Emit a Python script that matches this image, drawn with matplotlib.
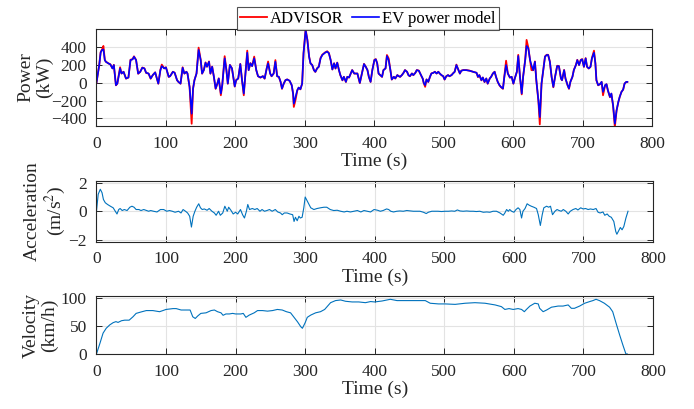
import matplotlib.pyplot as plt

plt.rcParams['font.family'] = ['Liberation Serif', 'DejaVu Serif']
plt.rcParams['mathtext.fontset'] = 'stix'

# power (kW)
power_t = [0, 4, 6, 8, 10, 12, 13.5, 17, 20, 23, 25, 28, 30, 34, 36, 39, 42.5, 46, 49, 52,
           54, 57, 60, 63, 66, 69, 71.5, 75, 78, 81, 84.5, 87, 89, 92, 94, 97.5, 100, 104, 106, 110,
           112.5, 116, 118, 121, 124, 126.5, 129.5, 131, 134, 137, 139, 141, 144, 147, 150, 152, 154.5, 157, 159, 162,
           164, 166.5, 169, 171.5, 174, 176, 179, 181, 184.5, 187, 189, 192, 195, 199, 201, 204, 207, 209.5, 212, 214,
           217, 219, 221.5, 224, 227, 230, 232.5, 236, 239.5, 242, 245, 247, 250, 252, 255, 257.5, 260, 262.5, 265, 267,
           269.5, 272, 274.5, 278, 281, 283, 284, 286.5, 289, 291, 293.5, 296, 298, 301, 303.5, 306, 308, 310.5, 313, 315,
           317.5, 320, 322.5, 325, 329, 332, 334.5, 337, 339.5, 342, 344, 346.5, 349, 351, 354, 356, 359, 361, 363.5, 366,
           368, 371, 373, 375.5, 379, 382, 385, 387.5, 390, 392, 394.5, 397, 400, 402, 404, 406, 408.5, 411, 413, 416,
           418, 420.5, 423, 425, 428, 430, 433, 435, 437, 439.5, 442, 444, 447, 449, 451, 454, 456, 459, 461, 464,
           467, 469.5, 471, 473, 475, 477.5, 480, 482, 485, 487, 489.5, 492, 494, 496.5, 499, 501, 503.5, 506, 508, 511,
           513, 515.5, 518, 520, 523, 525, 528, 532, 537, 542, 547, 549, 551, 554, 556, 558.5, 561, 563, 566, 568,
           570.5, 573, 575, 577.5, 580, 582, 585, 587, 589.5, 592, 595, 597.5, 600, 602, 605, 607, 609.5, 612, 614, 617,
           619, 621.5, 624, 626, 628.5, 631, 633, 636, 638, 640.5, 643, 645.5, 648, 650, 652.5, 655, 657.5, 660, 663, 665.5,
           668.5, 670, 673, 675, 678, 680, 682, 685, 687, 690, 692, 694.5, 697, 699, 701.5, 704, 706, 708.5, 711, 713,
           716, 718, 719.5, 722, 724.5, 727, 729, 732, 734, 736, 739, 741, 743.5, 746, 748.5, 751, 753, 755.5, 758, 760,
           762.5, 764]
model_kw = [0, 200, 340, 370, 375, 256, 237, 219, 207, 162, 200, -26, -8, 162, 105, 124, 49, 60, 256, 264,
            294, 256, 105, 124, 170, 162, 113, 105, 49, 87, 117, 49, -8, 143, 188, 162, 173, 68, 75, 124,
            113, 30, 11, -8, 170, 105, 124, 105, -45, -347, -64, 30, 105, 370, 256, 105, 143, 226, 181, 237,
            105, 181, 68, -64, -8, 49, -120, -26, 275, 143, -8, 200, 162, -40, 30, 49, 211, 30, -120, 68,
            339, 143, 219, 188, 275, 143, 75, 60, 75, 49, 162, 219, 105, 75, 105, 237, 75, 68, 11, -64,
            -8, 30, 38, 23, -26, -120, -234, -158, -83, -53, -72, -8, 332, 588, 483, 294, 219, 200, 143, 124,
            162, 181, 275, 313, 339, 351, 332, 256, 151, 219, 162, 226, 143, 87, 30, 68, 11, 68, 60, 105,
            143, 105, 105, 105, 0, 105, 211, 181, 143, 68, 11, 143, 256, 264, 219, 105, 87, 68, 143, 162,
            302, 256, 143, 38, 68, 49, 87, 75, 68, 87, 113, 143, 124, 87, 75, 105, 87, 113, 143, 136,
            87, 49, 0, -26, 38, 11, 68, 105, 113, 124, 105, 124, 105, 87, 75, 38, 75, 87, 75, 87,
            105, 124, 200, 162, 105, 136, 143, 143, 136, 124, 113, 68, 87, 30, 60, 11, 49, -8, 49, 68,
            105, 124, 68, 11, -26, -45, -64, 68, 200, 105, 60, 68, -8, 49, 124, 302, 68, -120, 68, 256,
            415, 388, 256, 200, 143, 237, 30, -196, -385, -8, 143, 294, 313, 313, 237, 68, -45, 68, 188, 188,
            49, 30, 143, 49, -26, -64, 11, 68, 143, 200, 256, 200, 256, 264, 181, 275, 181, 162, 181, 275,
            339, 219, 30, -26, -15, 11, -102, -26, -15, -83, -158, -120, -253, -460, -309, -215, -158, -102, -75, -8,
            11, 11]
advisor_kw = [0, 205, 345, 375, 415, 258, 238, 220, 208, 163, 202, -28, -9, 175, 105, 125, 47, 60, 260, 267,
              298, 257, 102, 125, 172, 163, 111, 104, 47, 87, 118, 47, -10, 145, 205, 163, 175, 66, 75, 125,
              114, 29, 10, -10, 175, 104, 125, 104, -48, -460, -67, 30, 106, 396, 259, 103, 144, 230, 182, 241,
              103, 183, 66, -67, -9, 50, -140, -28, 300, 144, -10, 202, 163, -42, 30, 49, 213, 28, -140, 68,
              362, 142, 222, 189, 295, 142, 74, 59, 75, 47, 163, 240, 104, 74, 105, 256, 74, 66, 10, -67,
              -9, 30, 39, 22, -28, -125, -271, -190, -85, -54, -73, -9, 336, 603, 486, 296, 220, 200, 142, 123,
              163, 183, 280, 316, 342, 355, 335, 258, 150, 220, 161, 228, 142, 86, 28, 68, 10, 68, 59, 105,
              144, 104, 105, 105, -3, 106, 213, 182, 143, 67, 10, 144, 259, 267, 220, 104, 86, 67, 144, 163,
              313, 275, 143, 37, 68, 48, 87, 75, 67, 87, 114, 144, 124, 86, 74, 106, 86, 114, 144, 137,
              86, 47, -3, -45, 38, 10, 68, 106, 114, 125, 105, 125, 105, 86, 74, 37, 75, 87, 74, 87,
              106, 125, 205, 162, 104, 137, 144, 144, 137, 124, 113, 65, 87, 28, 60, 8, 49, -10, 49, 68,
              106, 125, 67, 10, -28, -48, -67, 69, 249, 105, 58, 68, -10, 49, 125, 315, 65, -130, 68, 260,
              483, 395, 259, 143, 142, 241, 28, -205, -467, -10, 144, 297, 316, 315, 238, 67, -50, 69, 192, 189,
              47, 29, 145, 47, -28, -67, 10, 69, 145, 202, 259, 200, 259, 267, 180, 278, 180, 161, 181, 278,
              362, 220, 28, -28, -16, 10, -140, -28, -16, -86, -162, -122, -260, -498, -312, -218, -159, -103, -75, -9,
              10, 10]

# acceleration (m/s^2)
acc_t = [0, 2.5, 5.5, 8, 10, 12.7, 16, 20, 24, 27, 29.5, 32, 34, 37, 40, 44, 48, 51, 54, 57,
         61, 64, 68, 72, 75, 78, 82, 87, 92, 96.6, 101, 105, 109, 113, 118, 121.5, 124.5, 128, 131, 134,
         136.5, 139, 141.5, 144, 147, 149.5, 152, 155, 159, 162, 166, 169.5, 172, 175.5, 178, 181.5, 184.5, 188, 190, 193.5,
         196.5, 200, 203, 207, 210, 212.7, 215.5, 217.5, 220, 224, 227.6, 231, 235, 238, 241.5, 245, 248.7, 252.5, 257, 260.6,
         264.5, 267, 270, 274, 278, 282, 284, 286, 288.5, 291, 293, 295.6, 298, 300, 303, 305.5, 308, 312.5, 317, 322,
         327, 331, 336, 341, 346, 351, 356, 360, 365, 370, 375, 380, 384.5, 389, 394, 399, 404, 408, 412, 417,
         420, 423, 427, 431.6, 436, 441, 446, 451, 455.5, 460, 465, 470, 474, 477, 482, 486.6, 491, 496, 501, 506,
         510.5, 515, 518.7, 522.5, 527, 532, 537, 541.6, 546, 551, 556, 561, 565.5, 570, 575, 580, 584.7, 587, 589.5, 592,
         594, 596.7, 600, 603, 606, 608.6, 611, 613, 616, 619, 622, 625, 628.7, 632.5, 635, 638, 640.7, 643, 647, 650,
         652.6, 655.5, 659, 662, 665, 668, 671, 674.6, 678, 681, 685, 689, 692, 696, 699.5, 703, 706.7, 710, 714, 718,
         721, 724, 728, 730.6, 734, 737, 740, 743.6, 746.4, 748, 750, 753, 755.5, 758, 761, 764]
acc_ms2 = [0, 1.18, 1.53, 1.29, 0.82, 0.59, 0.47, 0.35, 0.24, 0, -0.19, 0.12, 0.19, 0.05, 0.12, 0.05, 0.28, 0.35, 0.28, 0.12,
           0.12, 0.05, 0.12, 0.05, 0, 0.05, 0, -0.05, 0.12, 0.12, 0, 0.05, 0, -0.07, 0, -0.12, 0.12, 0, -0.12, -0.35,
           -1.1, -0.35, 0, 0.28, 0.52, 0.24, 0.12, 0.16, 0.07, 0.19, 0, -0.12, -0.28, 0, -0.28, -0.12, 0.35, 0, 0.28, 0.05,
           -0.19, -0.07, -0.19, 0.12, -0.24, -0.47, 0, 0.47, 0.12, 0.19, 0.12, 0.19, 0, 0.12, 0, 0.05, 0.12, 0, 0.12, -0.05,
           -0.12, -0.24, -0.12, -0.12, -0.19, -0.24, -0.71, -0.42, -0.66, -0.35, -0.47, -0.42, 0.24, 0.99, 0.71, 0.47, 0.24, 0.12, 0.19, 0.24,
           0.28, 0.28, 0.12, 0.05, 0.07, 0, -0.05, 0, -0.05, 0, 0.05, -0.05, 0.05, 0, -0.05, 0.12, 0.07, 0, 0.05, 0.16,
           0.12, 0, -0.05, 0, 0.02, 0, 0.05, 0.02, 0, 0, 0, -0.07, -0.16, -0.07, 0, 0, 0, -0.02, 0, 0,
           0.02, 0, 0.09, 0.02, 0, 0.02, 0, 0, -0.02, 0, -0.07, -0.05, -0.07, 0, 0, -0.12, -0.28, -0.12, 0.12, 0,
           0.12, 0, -0.07, 0.12, 0.24, 0.12, -0.47, 0, 0.19, 0.52, 0.42, 0.35, 0.28, 0.19, -0.24, -0.99, -0.24, 0.24, 0.35, 0.28,
           0.35, -0.24, 0, 0.12, 0.05, 0, 0.12, 0, -0.19, 0, 0.12, 0.19, 0.09, 0.24, 0.16, 0.19, 0.12, 0.16, 0.12, 0.19,
           -0.07, -0.12, -0.05, -0.28, -0.19, -0.35, -0.42, -0.71, -1.41, -1.6, -1.41, -1.13, -1.29, -1.06, -0.47, 0]

# velocity (km/h)
vel_t = [0, 5, 9.5, 14, 19, 24, 28, 31, 36, 40.6, 47, 52.5, 57, 64, 71.6, 81, 90.7, 95.5, 100, 110,
         114.6, 121.7, 129, 134.6, 138.4, 142, 145.6, 150, 157.5, 164.7, 169.5, 174, 179, 182, 186, 191, 195.7, 200, 207.6, 211,
         214.8, 219.6, 226.7, 231.5, 238.7, 245.8, 253, 260, 267, 273, 279, 284, 289, 293.6, 296, 300, 303, 308, 315, 322,
         328, 336.5, 343.6, 351, 358, 367.5, 377, 386.6, 394, 400, 410.5, 422.4, 432, 444, 458, 472.6, 479.7, 491.6, 501, 515.5,
         530, 544, 558.5, 573, 582, 587, 593, 599, 606, 611, 615, 618, 623, 630, 635, 637, 642, 647, 654, 659,
         663.5, 670.6, 678, 682.6, 687, 694.5, 701.7, 709, 713.6, 718, 723, 730, 737.5, 742, 747, 752, 756.6, 761, 763]
vel_kmh = [0, 19, 37, 45.6, 51.5, 55.6, 57.4, 56, 59, 60, 60, 66, 72, 74.5, 77, 77, 75, 77, 79, 80.5,
           80.5, 78, 78, 78, 66, 63, 67.5, 72, 73, 77, 78, 75, 73, 68.6, 71, 71, 72, 71, 71, 72,
           65, 69, 73, 77, 77, 76, 77, 79, 78, 75, 73, 65, 57, 48.5, 45.6, 55.6, 65, 69, 73, 75,
           79, 91, 94.7, 95.8, 93.5, 92.3, 92.3, 91, 93, 92.3, 94, 97, 94.7, 94.7, 94.7, 94.7, 90, 88.8, 88.8, 88,
           90, 91, 90, 87, 84, 79, 80.5, 79, 80.5, 79, 75, 79, 85, 90, 88.8, 81, 75, 78, 83, 84,
           85, 85, 87, 81, 81, 85, 90, 93, 94.7, 97, 94.7, 90, 83, 75, 54, 33.7, 16, 0, 0]

tc = '#262626'
fig = plt.figure(figsize=(6.94, 4.09), dpi=100)
ax1 = fig.add_axes([0.139, 0.692, 0.801, 0.237])
ax2 = fig.add_axes([0.139, 0.409, 0.802, 0.149])
ax3 = fig.add_axes([0.139, 0.1345, 0.802, 0.142])

ax1.plot(power_t, advisor_kw, color='#FF0000', lw=1.3, label='ADVISOR')
ax1.plot(power_t, model_kw, color='#0000FF', lw=1.2, label='EV power model')
ax2.plot(acc_t, acc_ms2, color='#0072BD', lw=0.8)
ax3.plot(vel_t, vel_kmh, color='#0072BD', lw=0.8)

ax1.set_ylim(-485, 605)
ax1.set_yticks([-400, -200, 0, 200, 400])
ax2.set_ylim(-2.12, 2.12)
ax2.set_yticks([-2, 0, 2])
ax3.set_ylim(0, 103)
ax3.set_yticks([0, 50, 100])

labels = [('Power\n(kW)', -0.078), ('Acceleration\n(m/s$^2$)', -0.052), ('Velocity\n(km/h)', -0.069)]
for ax, (lab, xc) in zip([ax1, ax2, ax3], labels):
    ax.set_xlim(0, 800)
    ax.set_xticks(range(0, 801, 100))
    ax.grid(True, color='#E3E3E3', lw=0.8)
    ax.set_axisbelow(True)
    ax.tick_params(direction='in', top=True, right=True, length=4, width=0.7,
                   colors=tc, labelsize=12.5, pad=7)
    for s in ax.spines.values():
        s.set_color(tc)
        s.set_linewidth(0.8)
    ax.set_xlabel('Time (s)', fontsize=14, color=tc, labelpad=1)
    ax.set_ylabel(lab, fontsize=14, color=tc, linespacing=1.1)
    ax.yaxis.set_label_coords(xc, 0.5)

leg = ax1.legend(loc='lower center', bbox_to_anchor=(0.488, 0.99), ncol=2, fontsize=12,
                 frameon=True, fancybox=False, edgecolor='#262626', handlelength=1.6,
                 handletextpad=0.2, columnspacing=0.5, borderpad=0.2, borderaxespad=0)
leg.get_frame().set_linewidth(0.8)

plt.savefig('out.png', dpi=100)
